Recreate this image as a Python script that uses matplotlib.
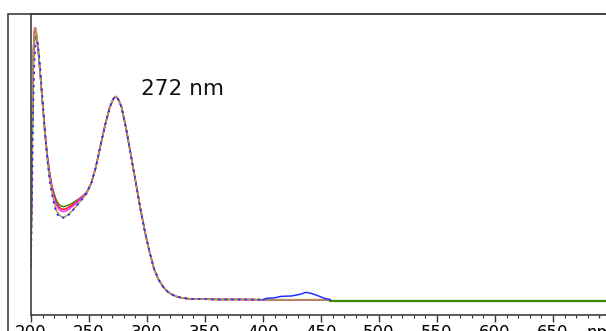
import matplotlib
matplotlib.use('Agg')
import matplotlib.pyplot as plt
from matplotlib.patches import Rectangle
from matplotlib.ticker import MultipleLocator

# short-wavelength part, one list per trace (nm / absorbance)
wl_head = [200, 201, 202, 203, 204, 205, 206, 207, 208, 210, 212, 214, 216,
           218, 220, 222, 224, 226, 228, 230, 233, 236, 240, 244, 248]
olive_head = [0.15, 0.60, 0.90, 0.99, 1.00, 0.97, 0.93, 0.88, 0.83, 0.72, 0.61,
              0.52, 0.45, 0.40, 0.36, 0.33, 0.315, 0.307, 0.305, 0.308, 0.318,
              0.330, 0.350, 0.370, 0.392]
magenta_head = [0.14, 0.62, 0.92, 1.00, 1.00, 0.97, 0.93, 0.88, 0.83, 0.72,
                0.615, 0.53, 0.46, 0.41, 0.375, 0.35, 0.335, 0.327, 0.325,
                0.327, 0.335, 0.345, 0.36, 0.377, 0.395]
red_head = [0.14, 0.60, 0.91, 0.99, 0.99, 0.97, 0.93, 0.88, 0.83, 0.72, 0.615,
            0.53, 0.465, 0.415, 0.38, 0.355, 0.342, 0.335, 0.333, 0.335, 0.342,
            0.35, 0.363, 0.378, 0.395]
green_head = [0.17, 0.55, 0.85, 0.95, 0.97, 0.96, 0.93, 0.88, 0.83, 0.72, 0.62,
              0.535, 0.47, 0.42, 0.39, 0.365, 0.352, 0.345, 0.343, 0.345, 0.35,
              0.357, 0.368, 0.38, 0.396]
blue_head = [0.12, 0.40, 0.72, 0.88, 0.94, 0.95, 0.94, 0.90, 0.85, 0.74, 0.62,
             0.52, 0.44, 0.39, 0.35, 0.32, 0.307, 0.302, 0.302, 0.305, 0.315,
             0.33, 0.35, 0.37, 0.392]

# common band around 272 nm down to the baseline
wl_tail = [252, 256, 260, 264, 268, 271, 273, 275, 278, 282, 286, 290, 294,
           298, 302, 306, 310, 314, 318, 322, 326, 330, 335, 340, 350, 360,
           380, 400, 420, 440, 458]
abs_tail = [0.43, 0.49, 0.57, 0.645, 0.71, 0.74, 0.748, 0.74, 0.71, 0.63,
            0.535, 0.44, 0.343, 0.255, 0.18, 0.115, 0.075, 0.048, 0.03, 0.019,
            0.012, 0.008, 0.005, 0.004, 0.003, 0.002, 0.002, 0.001, 0.001,
            0.001, 0.001]

# small blue band in the visible
wl_bump = [400, 403, 410, 415, 425, 432, 437, 441, 446, 453, 458]
blue_bump = [0.001, 0.006, 0.008, 0.013, 0.015, 0.021, 0.028, 0.025, 0.018,
             0.006, 0.001]

# green trace continues alone up to the end
wl_far = [458, 500, 550, 600, 650, 700]
green_far = [-0.002, -0.002, -0.002, -0.002, -0.002, -0.002]

major_ticks = [200, 250, 300, 350, 400, 450, 500, 550, 600, 650, 690]
tick_labels = ['200', '250', '300', '350', '400', '450', '500', '550', '600',
               '650', 'nm']

fig = plt.figure(figsize=(6.06, 3.31), dpi=100)
ax = fig.add_axes([31 / 606, 1 - 315 / 331, 580 / 606, 301 / 331])

wl_main = wl_head + wl_tail
tail_lo = [a for w, a in zip(wl_tail, abs_tail) if w <= 400]
wl_lo = [w for w in wl_tail if w <= 400]

lw = 1.1
ax.plot(wl_main, green_head + abs_tail, color='#3a8a00', lw=lw)
ax.plot(wl_far, green_far, color='#3a8a00', lw=1.6)
ax.plot(wl_main, red_head + abs_tail, color='#ff1010', lw=lw)
ax.plot(wl_main, magenta_head + abs_tail, color='#ff22ff', lw=lw)
ax.plot(wl_main, olive_head + abs_tail, color='#a8a048', lw=lw)
ax.plot(wl_head + wl_lo, blue_head + tail_lo, color='#1f2fff', lw=1.2,
        dashes=(1.5, 2.5))
ax.plot(wl_bump, blue_bump, color='#1f2fff', lw=1.1)

ax.text(331, 0.776, '272 nm', fontsize=15.5, color='#111111',
        family='DejaVu Sans', ha='center', va='center')

ax.set_xlim(200, 700)
ax.set_ylim(-15 / 272, 286 / 272)
ax.set_xticks(major_ticks)
ax.set_xticklabels(tick_labels)
ax.xaxis.set_minor_locator(MultipleLocator(10))
ax.set_yticks([])
ax.tick_params(axis='x', which='major', length=5, width=1.0, pad=1.5,
               labelsize=12, color='#333333')
ax.tick_params(axis='x', which='minor', length=2.5, width=0.8, color='#333333')
# the unit label sits on a short tick like the minor ones
ax.xaxis.get_major_ticks()[-1].tick1line.set_markersize(2.5)
for s in ax.spines.values():
    s.set_color('#404040')
    s.set_linewidth(1.2)

# outer frame of the instrument window
frame = Rectangle((7.5 / 606, -0.2), 1.2, 1.2 - 13.5 / 331,
                  transform=fig.transFigure, fill=False,
                  edgecolor='#404040', lw=1.2, clip_on=False)
fig.patches.append(frame)

fig.savefig('out.png', dpi=100)
